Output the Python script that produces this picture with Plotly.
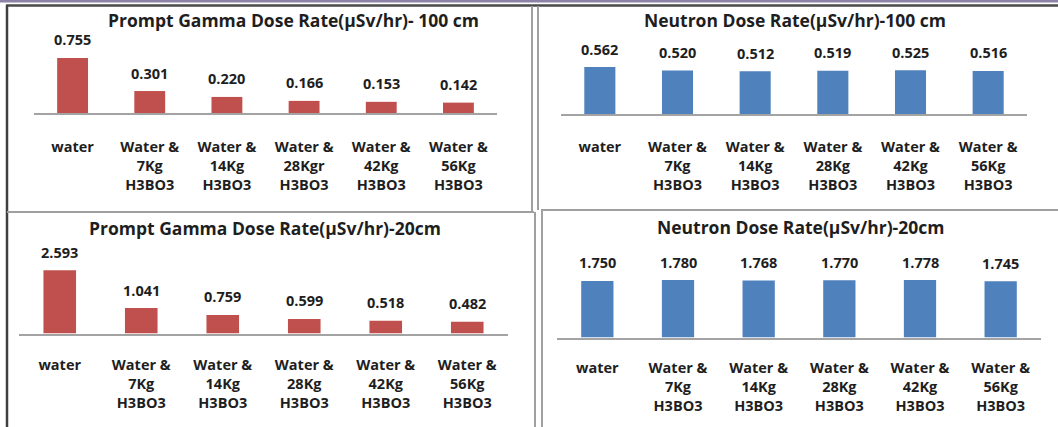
import plotly.graph_objects as go

W, H = 1058, 427

# Category labels (the 100 cm gamma chart spells the 28 kg mix "28Kgr")
cats_gamma_100 = ["water", "Water &<br>7Kg<br>H3BO3", "Water &<br>14Kg<br>H3BO3",
                  "Water &<br>28Kgr<br>H3BO3", "Water &<br>42Kg<br>H3BO3", "Water &<br>56Kg<br>H3BO3"]
cats_mix = ["water", "Water &<br>7Kg<br>H3BO3", "Water &<br>14Kg<br>H3BO3",
            "Water &<br>28Kg<br>H3BO3", "Water &<br>42Kg<br>H3BO3", "Water &<br>56Kg<br>H3BO3"]

# Dose rates (µSv/hr)
gamma_100 = [0.755, 0.301, 0.220, 0.166, 0.153, 0.142]
neutron_100 = [0.562, 0.520, 0.512, 0.519, 0.525, 0.516]
gamma_20 = [2.593, 1.041, 0.759, 0.599, 0.518, 0.482]
neutron_20 = [1.750, 1.780, 1.768, 1.770, 1.778, 1.745]

RED = "#c0504d"
BLUE = "#4f81bd"
TXT = "#1e1e1e"
FONT = "Open Sans"
LABEL_SIZE = 14.5
TITLE_SIZE = 17.5


def px(x):
    return x / W


def py(y):
    return 1 - y / H


# panel layout in pixels: plot left/right, baseline, top, y max, title centre
panels = [
    dict(title="Prompt Gamma Dose Rate(µSv/hr)- 100 cm", cats=cats_gamma_100, vals=gamma_100,
         color=RED, x0=34, x1=497, base=113, top=40, ymax=1.0, tx=293, ty=20, standoff=20),
    dict(title="Neutron Dose Rate(µSv/hr)-100 cm", cats=cats_mix, vals=neutron_100,
         color=BLUE, x0=561, x1=1027, base=114, top=55.5, ymax=0.7, tx=795, ty=20, standoff=19),
    dict(title="Prompt Gamma Dose Rate(µSv/hr)-20cm", cats=cats_mix, vals=gamma_20,
         color=RED, x0=19, x1=508, base=333.5, top=260.3, ymax=3.0, tx=265, ty=228, standoff=17),
    dict(title="Neutron Dose Rate(µSv/hr)-20cm", cats=cats_mix, vals=neutron_20,
         color=BLUE, x0=557, x1=1041, base=337.5, top=272.9, ymax=2.0, tx=800, ty=227, standoff=16),
]

fig = go.Figure()
annotations = []

for i, p in enumerate(panels, start=1):
    sfx = "" if i == 1 else str(i)
    fig.add_trace(go.Bar(
        x=p["cats"], y=p["vals"], xaxis="x" + sfx, yaxis="y" + sfx,
        width=0.4, marker=dict(color=p["color"], line=dict(width=0)),
        cliponaxis=False, hoverinfo="skip", showlegend=False,
    ))
    fig.layout["xaxis" + sfx] = dict(
        domain=[px(p["x0"]), px(p["x1"])], anchor="y" + sfx, type="category",
        range=[-0.5, 5.5], showline=True, linecolor="#a3a3a3", linewidth=2,
        ticks="", ticklabelstandoff=p["standoff"], showgrid=False, zeroline=False,
        tickfont=dict(family=FONT, size=LABEL_SIZE, color=TXT, weight="bold"), fixedrange=True,
    )
    fig.layout["yaxis" + sfx] = dict(
        domain=[py(p["base"]), py(p["top"])], anchor="x" + sfx,
        range=[0, p["ymax"]], visible=False, fixedrange=True,
    )
    # data labels above each bar
    for c, v in zip(p["cats"], p["vals"]):
        annotations.append(dict(
            x=c, y=v, xref="x" + sfx, yref="y" + sfx, text=f"{v:.3f}",
            showarrow=False, yanchor="middle", yshift=18,
            font=dict(family=FONT, size=LABEL_SIZE, color=TXT, weight="bold"),
        ))
    # chart title
    annotations.append(dict(
        x=px(p["tx"]), y=py(p["ty"]), xref="paper", yref="paper", text=p["title"],
        showarrow=False, xanchor="center", yanchor="middle",
        font=dict(family=FONT, size=TITLE_SIZE, color=TXT, weight="bold"),
    ))


def hline(x0, x1, y, color, w):
    return dict(type="line", xref="paper", yref="paper", x0=px(x0), x1=px(x1),
                y0=py(y), y1=py(y), line=dict(color=color, width=w))


def vline(x, y0, y1, color, w):
    return dict(type="line", xref="paper", yref="paper", x0=px(x), x1=px(x),
                y0=py(y0), y1=py(y1), line=dict(color=color, width=w))


GRAY = "#a0a0a0"
shapes = [
    dict(type="rect", xref="paper", yref="paper", x0=0, x1=1, y0=py(2.5), y1=1,
         fillcolor="#8d81a8", line=dict(width=0)),
    hline(6, W, 5.5, "#4a4a4a", 2.5),
    vline(7, 5, H, "#404040", 2.5),
    vline(532, 6, 211, GRAY, 2),
    vline(538, 6, 210, GRAY, 2),
    hline(7, 534, 212, GRAY, 2),
    hline(541, W, 210, GRAY, 2),
    vline(535, 212, H, GRAY, 2),
    vline(542, 210, H, GRAY, 2),
]

fig.update_layout(
    width=W, height=H, margin=dict(l=0, r=0, t=0, b=0),
    paper_bgcolor="white", plot_bgcolor="white",
    annotations=annotations, shapes=shapes, showlegend=False,
)

fig.write_html("out.html", config={"displayModeBar": False})
